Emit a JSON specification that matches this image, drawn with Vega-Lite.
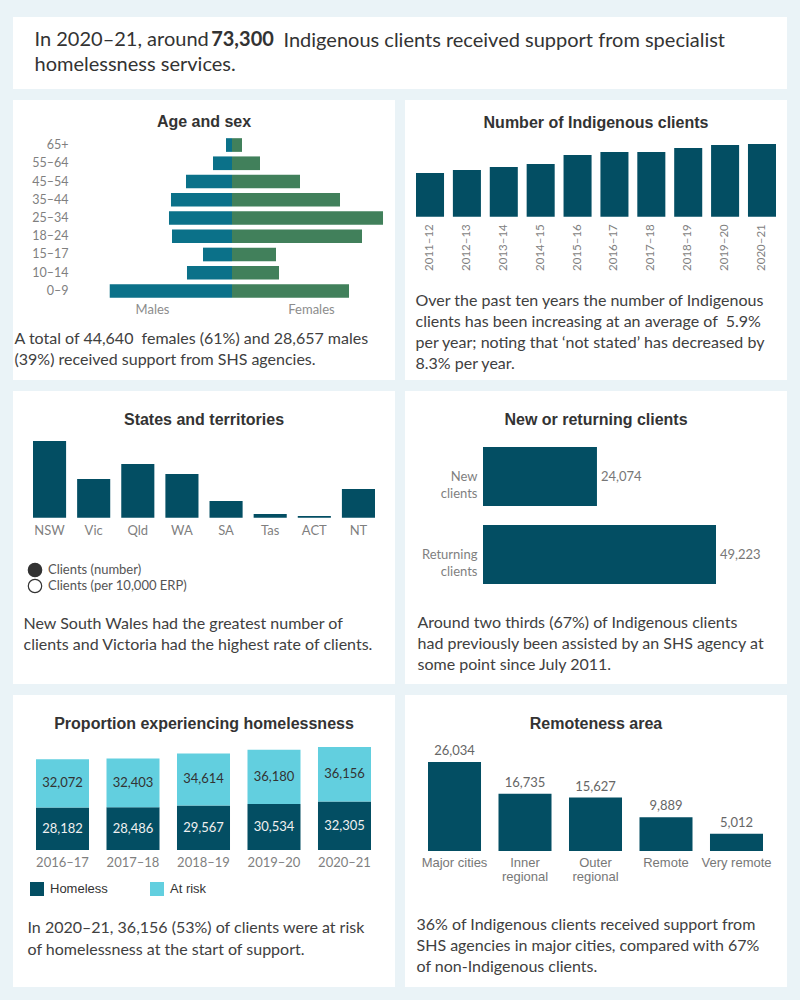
{
  "$schema": "https://vega.github.io/schema/vega-lite/v6.json",
  "background": "#eaf3f7",
  "padding": {"left": 13, "top": 17, "right": 13, "bottom": 13},
  "spacing": 11,
  "config": {
    "view": {"fill": "white", "stroke": null},
    "concat": {"spacing": 10},
    "axis": {"grid": false, "domain": false, "ticks": false, "labelFont": "Lato", "labelFontSize": 12.5, "labelColor": "#7f7f7f", "labelOverlap": false, "titleFont": "Lato", "titleFontSize": 16, "titleFontWeight": "normal", "titleColor": "#404040", "titleLineHeight": 21},
    "title": {"font": "Liberation Sans", "fontSize": 16, "fontWeight": "bold", "color": "#333333", "anchor": "middle", "frame": "group", "offset": 0, "baseline": "middle"}
  },
  "vconcat": [
    {
      "width": 774, "height": 72,
      "data": {"values": [{"number": "73,300", "rest": "Indigenous clients received support from specialist"}]},
      "mark": {"type": "point", "opacity": 0},
      "encoding": {
        "x": {"field": "number", "type": "nominal", "scale": {"type": "point", "range": [229, 229], "padding": 0},
          "axis": {"orient": "bottom", "offset": -72, "labelAngle": 0, "labelAlign": "center", "labelPadding": 12, "labelFont": "Lato", "labelFontSize": 20, "labelFontWeight": "bold", "labelColor": "#333333", "labelBaseline": "top",
            "title": "In 2020–21, around",
            "titleX": 21, "titleY": 12, "titleAngle": 0, "titleAlign": "left", "titleBaseline": "top", "titleFont": "Lato", "titleFontSize": 20, "titleColor": "#333333"}},
        "y": {"field": "rest", "type": "nominal", "scale": {"type": "point", "range": [23, 23], "padding": 0},
          "axis": {"orient": "right", "offset": -504, "labelAngle": 0, "labelAlign": "left", "labelBaseline": "middle", "labelPadding": 0, "labelLimit": 700, "labelFont": "Lato", "labelFontSize": 20, "labelColor": "#333333",
            "title": "homelessness services.",
            "titleX": -249, "titleY": 37, "titleAngle": 0, "titleAlign": "left", "titleBaseline": "top", "titleFont": "Lato", "titleFontSize": 20, "titleColor": "#333333"}}
      }
    },
    {
      "hconcat": [
        {
          "width": 382, "height": 280,
          "title": {"text": "Age and sex", "dy": 34},
          "data": {"values": [
            {"age": "65+", "sex": "Males", "clients": 381},
            {"age": "55–64", "sex": "Males", "clients": 1206},
            {"age": "45–54", "sex": "Males", "clients": 2921},
            {"age": "35–44", "sex": "Males", "clients": 3874},
            {"age": "25–34", "sex": "Males", "clients": 4001},
            {"age": "18–24", "sex": "Males", "clients": 3810},
            {"age": "15–17", "sex": "Males", "clients": 1842},
            {"age": "10–14", "sex": "Males", "clients": 2858},
            {"age": "0–9", "sex": "Males", "clients": 7764},
            {"age": "65+", "sex": "Females", "clients": 635},
            {"age": "55–64", "sex": "Females", "clients": 1778},
            {"age": "45–54", "sex": "Females", "clients": 4318},
            {"age": "35–44", "sex": "Females", "clients": 6858},
            {"age": "25–34", "sex": "Females", "clients": 9589},
            {"age": "18–24", "sex": "Females", "clients": 8255},
            {"age": "15–17", "sex": "Females", "clients": 2794},
            {"age": "10–14", "sex": "Females", "clients": 2985},
            {"age": "0–9", "sex": "Females", "clients": 7430}
          ]},
          "encoding": {
            "y": {"field": "age", "type": "nominal", "sort": ["65+", "55–64", "45–54", "35–44", "25–34", "18–24", "15–17", "10–14", "0–9"],
              "scale": {"range": [35.9, 200.1], "paddingInner": 0.25, "paddingOuter": 0.125},
              "axis": {"orient": "left", "offset": -59, "labelPadding": 4, "title": ["A total of 44,640 \u00a0females (61%) and 28,657 males", "(39%) received support from SHS agencies."], "titleX": -58, "titleY": 230, "titleAngle": 0, "titleAlign": "left", "titleBaseline": "top"}}
          },
          "layer": [
            {
              "transform": [{"filter": "datum.sex === 'Males'"}],
              "mark": {"type": "bar", "color": "#0b7189"},
              "encoding": {"x": {"field": "clients", "type": "quantitative", "scale": {"domain": [0, 13906], "range": [219, 0], "nice": false},
                "axis": {"orient": "bottom", "offset": -71, "labels": false, "title": "Males", "titleX": 139, "titleY": 0, "titleAngle": 0, "titleAlign": "center", "titleBaseline": "middle", "titleFontSize": 13, "titleColor": "#8c8c8c"}}}
            },
            {
              "transform": [{"filter": "datum.sex === 'Females'"}],
              "mark": {"type": "bar", "color": "#41805b"},
              "encoding": {"x": {"field": "clients", "type": "quantitative", "scale": {"domain": [0, 10350], "range": [219, 382], "nice": false},
                "axis": {"orient": "bottom", "offset": -71, "labels": false, "title": "Females", "titleX": 298, "titleY": 0, "titleAngle": 0, "titleAlign": "center", "titleBaseline": "middle", "titleFontSize": 13, "titleColor": "#8c8c8c"}}}
            }
          ],
          "resolve": {"scale": {"x": "independent"}, "axis": {"x": "independent"}}
        },
        {
          "width": 382, "height": 280,
          "title": {"text": "Number of Indigenous clients", "dy": 35},
          "data": {"values": [
            {"year": "2011–12", "clients": 44060},
            {"year": "2012–13", "clients": 47085},
            {"year": "2013–14", "clients": 50110},
            {"year": "2014–15", "clients": 53130},
            {"year": "2015–16", "clients": 62205},
            {"year": "2016–17", "clients": 65235},
            {"year": "2017–18", "clients": 65235},
            {"year": "2018–19", "clients": 69265},
            {"year": "2019–20", "clients": 72290},
            {"year": "2020–21", "clients": 73300}
          ]},
          "mark": {"type": "bar", "color": "#034e63"},
          "encoding": {
            "x": {"field": "year", "type": "ordinal", "sort": null, "scale": {"range": [11, 371], "paddingInner": 0.24, "paddingOuter": 0},
              "axis": {"orient": "bottom", "offset": -163.3, "labelAngle": -90, "labelPadding": 7, "labelFontSize": 11.5,
                "title": ["Over the past ten years the number of Indigenous", "clients has been increasing at an average of \u00a05.9%", "per year; noting that ‘not stated’ has decreased by", "8.3% per year."],
                "titleX": 10, "titleY": 75.5, "titleAngle": 0, "titleAlign": "left", "titleBaseline": "top"}},
            "y": {"field": "clients", "type": "quantitative", "scale": {"domain": [0, 73300], "range": [116.7, 44], "nice": false}, "axis": null}
          }
        }
      ]
    },
    {
      "hconcat": [
        {
          "width": 382, "height": 293,
          "title": {"text": "States and territories", "dy": 41},
          "layer": [
            {
              "data": {"values": [
                {"state": "NSW", "clients": 21330},
                {"state": "Vic", "clients": 10760},
                {"state": "Qld", "clients": 14930},
                {"state": "WA", "clients": 12150},
                {"state": "SA", "clients": 4640},
                {"state": "Tas", "clients": 1030},
                {"state": "ACT", "clients": 470},
                {"state": "NT", "clients": 7980}
              ]},
              "mark": {"type": "bar", "color": "#034e63"},
              "encoding": {
                "x": {"field": "state", "type": "nominal", "sort": null, "scale": {"range": [20, 362], "paddingInner": 0.25, "paddingOuter": 0},
                  "axis": {"orient": "bottom", "offset": -166.3, "labelPadding": 7, "labelFontSize": 13, "labelAngle": 0,
                    "title": ["New South Wales had the greatest number of", "clients and Victoria had the highest rate of clients."],
                    "titleX": 10, "titleY": 98, "titleAngle": 0, "titleAlign": "left", "titleBaseline": "top"}},
                "y": {"field": "clients", "type": "quantitative", "scale": {"domain": [0, 21330], "range": [126.7, 50], "nice": false}, "axis": null}
              }
            },
            {
              "data": {"values": [{"measure": "Clients (number)"}, {"measure": "Clients (per 10,000 ERP)"}]},
              "encoding": {
                "x": {"field": "measure", "type": "nominal", "sort": null, "scale": {"type": "point", "range": [22, 22]}, "axis": null},
                "y": {"field": "measure", "type": "nominal", "sort": null, "scale": {"type": "point", "range": [179, 195], "padding": 0}, "axis": null}
              },
              "layer": [
                {"mark": {"type": "point", "shape": "circle", "size": 180, "filled": true, "stroke": "#333333", "strokeWidth": 1.2, "opacity": 1},
                 "encoding": {"fill": {"condition": {"test": "datum.measure === 'Clients (number)'", "value": "#333333"}, "value": "#ffffff"}}},
                {"mark": {"type": "text", "align": "left", "dx": 13, "font": "Lato", "fontSize": 13, "color": "#555555"},
                 "encoding": {"text": {"field": "measure", "type": "nominal"}}}
              ]
            }
          ],
          "resolve": {"scale": {"x": "independent", "y": "independent"}, "axis": {"x": "independent", "y": "independent"}}
        },
        {
          "width": 382, "height": 293,
          "title": {"text": "New or returning clients", "dy": 41},
          "data": {"values": [
            {"type": "New clients", "clients": 24074},
            {"type": "Returning clients", "clients": 49223}
          ]},
          "encoding": {
            "y": {"field": "type", "type": "nominal", "sort": null, "scale": {"range": [46.5, 202.5], "paddingInner": 0.244, "paddingOuter": 0.122},
              "axis": {"orient": "left", "offset": -78, "labelPadding": 6, "labelFontSize": 13, "labelExpr": "split(datum.label, ' ')", "labelLineHeight": 17,
                "title": ["\u00a0Around two thirds (67%) of Indigenous clients", "had previously been assisted by an SHS agency at", "some point since July 2011."],
                "titleX": -66, "titleY": 223.5, "titleAngle": 0, "titleAlign": "left", "titleBaseline": "top"}},
            "x": {"field": "clients", "type": "quantitative", "scale": {"domain": [0, 49223], "range": [78, 311], "nice": false}, "axis": null}
          },
          "layer": [
            {"mark": {"type": "bar", "color": "#034e63"}},
            {"mark": {"type": "text", "align": "left", "dx": 4, "font": "Lato", "fontSize": 13, "color": "#777777"},
             "encoding": {"text": {"field": "clients", "type": "quantitative", "format": ","}}}
          ]
        }
      ]
    },
    {
      "hconcat": [
        {
          "width": 382, "height": 292,
          "title": {"text": "Proportion experiencing homelessness", "dy": 41},
          "layer": [
            {
              "data": {"values": [
                {"year": "2016–17", "status": "Homeless", "clients": 28182},
                {"year": "2016–17", "status": "At risk", "clients": 32072},
                {"year": "2017–18", "status": "Homeless", "clients": 28486},
                {"year": "2017–18", "status": "At risk", "clients": 32403},
                {"year": "2018–19", "status": "Homeless", "clients": 29567},
                {"year": "2018–19", "status": "At risk", "clients": 34614},
                {"year": "2019–20", "status": "Homeless", "clients": 30534},
                {"year": "2019–20", "status": "At risk", "clients": 36180},
                {"year": "2020–21", "status": "Homeless", "clients": 32305},
                {"year": "2020–21", "status": "At risk", "clients": 36156}
              ]},
              "encoding": {
                "x": {"field": "year", "type": "ordinal", "sort": null, "scale": {"range": [23, 358], "paddingInner": 0.248, "paddingOuter": 0},
                  "axis": {"orient": "bottom", "offset": -137, "labelPadding": 6, "labelFontSize": 13, "labelAngle": 0,
                    "title": ["In 2020–21, 36,156 (53%) of clients were at risk", "of homelessness at the start of support."],
                    "titleX": 14, "titleY": 69, "titleAngle": 0, "titleAlign": "left", "titleBaseline": "top", "titleLineHeight": 22}},
                "y": {"field": "clients", "type": "quantitative", "stack": "zero", "scale": {"domain": [0, 68461], "range": [155, 52], "nice": false}, "axis": null},
                "order": {"field": "status", "sort": "descending"}
              },
              "layer": [
                {"mark": {"type": "bar"},
                 "encoding": {"color": {"field": "status", "type": "nominal", "scale": {"domain": ["Homeless", "At risk"], "range": ["#034e63", "#62cfdf"]}, "legend": null}}},
                {"mark": {"type": "text", "font": "Lato", "fontSize": 13},
                 "encoding": {
                   "y": {"field": "clients", "type": "quantitative", "stack": "zero", "bandPosition": 0.5},
                   "detail": {"field": "status", "type": "nominal"},
                   "text": {"field": "clients", "type": "quantitative", "format": ","},
                   "color": {"condition": {"test": "datum.status === 'Homeless'", "value": "#f0f0f0"}, "value": "#333333"}
                 }}
              ]
            },
            {
              "data": {"values": [{"status": "Homeless"}, {"status": "At risk"}]},
              "encoding": {
                "x": {"field": "status", "type": "nominal", "sort": null, "scale": {"type": "point", "range": [24, 144], "padding": 0}, "axis": null},
                "y": {"field": "status", "type": "nominal", "sort": null, "scale": {"type": "point", "range": [194, 194], "padding": 0}, "axis": null}
              },
              "layer": [
                {"mark": {"type": "square", "size": 196, "opacity": 1},
                 "encoding": {"color": {"field": "status", "type": "nominal", "scale": {"domain": ["Homeless", "At risk"], "range": ["#034e63", "#62cfdf"]}, "legend": null}}},
                {"mark": {"type": "text", "align": "left", "dx": 13, "font": "Liberation Sans", "fontSize": 13, "color": "#333333"},
                 "encoding": {"text": {"field": "status", "type": "nominal"}}}
              ]
            }
          ],
          "resolve": {"scale": {"x": "independent", "y": "independent"}, "axis": {"x": "independent", "y": "independent"}}
        },
        {
          "width": 382, "height": 292,
          "title": {"text": "Remoteness area", "dy": 41},
          "data": {"values": [
            {"area": "Major cities", "clients": 26034},
            {"area": "Inner regional", "clients": 16735},
            {"area": "Outer regional", "clients": 15627},
            {"area": "Remote", "clients": 9889},
            {"area": "Very remote", "clients": 5012}
          ]},
          "encoding": {
            "x": {"field": "area", "type": "nominal", "sort": null, "scale": {"range": [23, 358], "paddingInner": 0.248, "paddingOuter": 0},
              "axis": {"orient": "bottom", "offset": -136, "labelPadding": 5, "labelFont": "Liberation Sans", "labelFontSize": 13, "labelColor": "#777777", "labelAngle": 0, "labelLineHeight": 14,
                "labelExpr": "datum.label === 'Inner regional' || datum.label === 'Outer regional' ? split(datum.label, ' ') : datum.label",
                "title": ["36% of Indigenous clients received support from", "SHS agencies in major cities, compared with 67%", "of non-Indigenous clients."],
                "titleX": 11, "titleY": 65, "titleAngle": 0, "titleAlign": "left", "titleBaseline": "top"}},
            "y": {"field": "clients", "type": "quantitative", "scale": {"domain": [0, 26034], "range": [156, 67], "nice": false}, "axis": null}
          },
          "layer": [
            {"mark": {"type": "bar", "color": "#034e63"}},
            {"mark": {"type": "text", "baseline": "bottom", "dy": -4, "font": "Lato", "fontSize": 13, "color": "#666666"},
             "encoding": {"text": {"field": "clients", "type": "quantitative", "format": ","}}}
          ]
        }
      ]
    }
  ]
}
